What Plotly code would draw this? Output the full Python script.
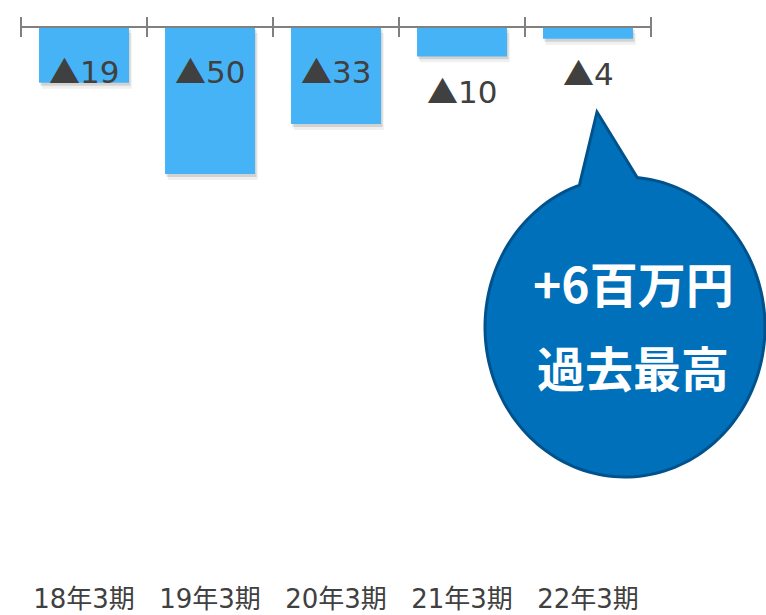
import numpy as np
import plotly.graph_objects as go

# Fiscal periods and operating result (millions of yen)
periods = ["18年3期", "19年3期", "20年3期", "21年3期", "22年3期"]
values = [-19, -50, -33, -10, -4]
callout_lines = ["+6百万円", "過去最高"]

W, H = 766, 615
ML, MR, MT, MB = 21, 115, 27, 34
PLOT_W, PLOT_H = W - ML - MR, H - MT - MB
PX_PER_UNIT = 2.94
Y_MIN = -PLOT_H / PX_PER_UNIT

BAR_COLOR = "#47B3F7"
TEXT_COLOR = "#404040"
AXIS_COLOR = "#808080"
BAR_W = 0.714
TRI = "<span style=\"font-family:'Noto Sans CJK JP'\">▲</span>"


def fmt(v):
    return (TRI + str(abs(v))) if v < 0 else ("+" + str(v))


def px_to_paper(px, py):
    return (px - ML) / PLOT_W, (H - MB - py) / PLOT_H


fig = go.Figure()

# soft drop shadow under each bar
for shift, dx, alpha in [(2.0, 0.022, 0.06), (1.0, 0.012, 0.12)]:
    fig.add_trace(go.Bar(
        x=periods, y=values, base=[-shift] * len(values),
        width=BAR_W, offset=-BAR_W / 2 + dx,
        marker=dict(color=f"rgba(0,0,0,{alpha})", line=dict(width=0)),
        hoverinfo="skip", showlegend=False,
    ))

fig.add_trace(go.Bar(
    x=periods, y=values, width=BAR_W, offset=-BAR_W / 2,
    marker=dict(color=BAR_COLOR, line=dict(width=0)),
    showlegend=False,
))

# value labels: inside the bar when it is deep enough, below it otherwise
annotations = []
for p, v in zip(periods, values):
    if v <= -19:
        ann = dict(y=-14.6, yshift=0)
    else:
        ann = dict(y=v, yshift=-33)
    annotations.append(dict(
        x=p, xref="x", yref="y", text=fmt(v), showarrow=False,
        yanchor="middle", xanchor="center",
        font=dict(family="DejaVu Sans, Noto Sans CJK JP", size=31, color=TEXT_COLOR),
        **ann,
    ))

shapes = []
# zero line along the top with boundary tick marks
n = len(periods)
shapes.append(dict(type="line", xref="paper", yref="paper", x0=0, x1=1, y0=1, y1=1,
                   line=dict(color=AXIS_COLOR, width=2), layer="above"))
for i in range(n + 1):
    shapes.append(dict(type="line", xref="paper", yref="paper", ysizemode="pixel", yanchor=1,
                       x0=i / n, x1=i / n, y0=-10, y1=10,
                       line=dict(color=AXIS_COLOR, width=2), layer="above"))

# speech bubble pointing at the latest period
cx, cy, rx, ry = 625, 327, 140, 150
tip = (597, 112)
t0, t1 = np.deg2rad(-85), np.deg2rad(251)
ts = np.linspace(t0, t1, 160)
pts = [(cx + rx * np.cos(t), cy + ry * np.sin(t)) for t in ts]
path_pts = [tip] + pts
coords = [px_to_paper(x, y) for x, y in path_pts]
path = "M " + " L ".join(f"{x:.5f},{y:.5f}" for x, y in coords) + " Z"
shapes.append(dict(type="path", xref="paper", yref="paper", path=path,
                   fillcolor="#0070BA", line=dict(color="#00528C", width=3), layer="above"))

for line, py in zip(callout_lines, [282, 366]):
    x, y = px_to_paper(633, py)
    annotations.append(dict(
        x=x, y=y, xref="paper", yref="paper", text=line, showarrow=False,
        xanchor="center", yanchor="middle",
        font=dict(family="Noto Sans CJK JP", size=48, color="white", weight="bold"),
    ))

fig.update_layout(
    width=W, height=H,
    margin=dict(l=ML, r=MR, t=MT, b=MB),
    paper_bgcolor="white", plot_bgcolor="white",
    barmode="overlay",
    xaxis=dict(
        type="category", categoryorder="array", categoryarray=periods,
        range=[-0.5, n - 0.5],
        showline=False, showgrid=False, zeroline=False, ticks="",
        tickfont=dict(family="DejaVu Sans, Noto Sans CJK JP", size=26, color=TEXT_COLOR),
        automargin=False,
    ),
    yaxis=dict(range=[Y_MIN, 0], visible=False, showgrid=False, zeroline=False),
    shapes=shapes,
    annotations=annotations,
)

fig.write_html("out.html")
